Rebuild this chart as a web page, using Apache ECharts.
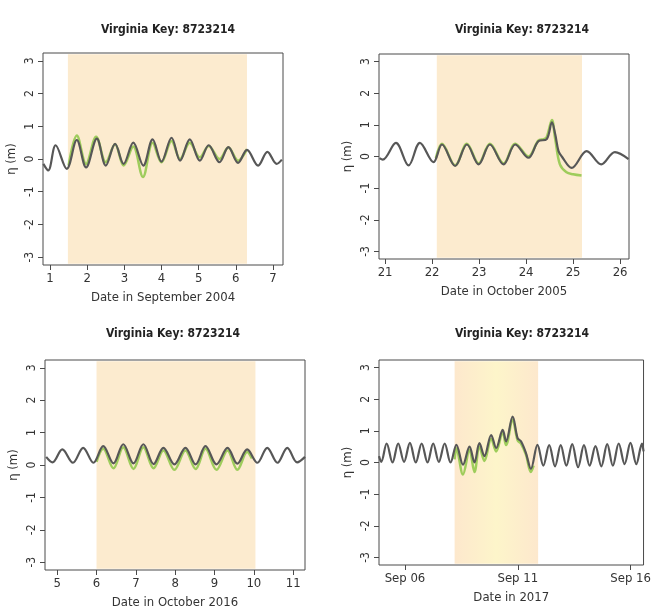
<!DOCTYPE html>
<html>
<head>
<meta charset="utf-8">
<script src="https://cdn.jsdelivr.net/npm/echarts@6/dist/echarts.min.js"></script>
<style>
  html, body { margin: 0; padding: 0; background: #fff; }
  #chart { width: 654px; height: 614px; }
</style>
</head>
<body>
<div id="chart"></div>
<script>
// Panel 1: September 2004
const p1Days = [0.82, 0.95, 1.15, 1.45, 1.72, 1.97, 2.26, 2.5, 2.75, 2.98, 3.24, 3.51, 3.76, 4.0, 4.27, 4.5, 4.76, 5.03, 5.27, 5.56, 5.8, 6.06, 6.3, 6.6, 6.85, 7.1, 7.24]
const p1Pred = [-0.15, -0.35, 0.42, -0.3, 0.58, -0.26, 0.62, -0.2, 0.46, -0.15, 0.5, -0.2, 0.6, -0.08, 0.65, -0.05, 0.6, -0.05, 0.42, -0.1, 0.36, -0.12, 0.28, -0.2, 0.22, -0.15, -0.02]
const p1ObsDays = [1.5, 1.72, 1.97, 2.24, 2.5, 2.75, 2.98, 3.24, 3.5, 3.76, 4.0, 4.27, 4.5, 4.76, 5.03, 5.27, 5.56, 5.8, 6.06, 6.3]
const p1Obs = [-0.2, 0.72, -0.15, 0.68, -0.1, 0.45, -0.2, 0.38, -0.55, 0.5, -0.1, 0.55, 0.0, 0.5, 0.05, 0.4, 0.0, 0.35, -0.05, 0.3]
const p1Storm = [1.48, 6.3]
const p1Ticks = [1, 2, 3, 4, 5, 6, 7]

// Panel 2: October 2005
const p2Days = [20.88, 20.95, 21.23, 21.5, 21.74, 22.03, 22.21, 22.49, 22.74, 22.99, 23.23, 23.52, 23.77, 24.05, 24.26, 24.44, 24.55, 24.62, 24.69, 24.76, 24.97, 25.29, 25.6, 25.89, 26.18]
const p2Pred = [-0.05, -0.1, 0.43, -0.28, 0.43, -0.18, 0.38, -0.3, 0.38, -0.25, 0.38, -0.25, 0.38, -0.04, 0.48, 0.55, 1.08, 0.7, 0.17, 0.0, -0.36, 0.17, -0.25, 0.14, -0.08]
const p2ObsDays = [22.08, 22.21, 22.49, 22.74, 22.99, 23.23, 23.52, 23.77, 24.05, 24.26, 24.38, 24.44, 24.55, 24.62, 24.72, 24.86, 25.0, 25.18]
const p2Obs = [-0.05, 0.4, -0.28, 0.4, -0.22, 0.4, -0.22, 0.4, 0.0, 0.5, 0.55, 0.62, 1.15, 0.55, -0.25, -0.5, -0.56, -0.6]
const p2Storm = [22.1, 25.19]
const p2Ticks = [21, 22, 23, 24, 25, 26]

// Panel 3: October 2016
const p3Days = [4.72, 4.88, 5.13, 5.4, 5.66, 5.92, 6.17, 6.43, 6.68, 6.94, 7.19, 7.45, 7.7, 7.98, 8.26, 8.52, 8.77, 9.05, 9.33, 9.58, 9.83, 10.09, 10.34, 10.6, 10.85, 11.1, 11.3]
const p3Pred = [0.25, 0.08, 0.48, 0.07, 0.53, 0.07, 0.58, 0.05, 0.64, 0.05, 0.64, 0.03, 0.53, 0.02, 0.53, 0.02, 0.58, 0.02, 0.53, 0.04, 0.48, 0.07, 0.53, 0.07, 0.53, 0.08, 0.25]
const p3ObsDays = [6.0, 6.17, 6.43, 6.68, 6.94, 7.19, 7.45, 7.7, 7.98, 8.26, 8.52, 8.77, 9.05, 9.33, 9.58, 9.83, 9.95]
const p3Obs = [0.1, 0.5, -0.1, 0.55, -0.12, 0.55, -0.1, 0.45, -0.15, 0.45, -0.12, 0.5, -0.15, 0.45, -0.15, 0.4, 0.2]
const p3Storm = [6.0, 10.04]
const p3Ticks = [5, 6, 7, 8, 9, 10, 11]

// Panel 4: September 2017 (day of month)
const p4Days = [4.85, 4.95, 5.19, 5.45, 5.7, 5.96, 6.22, 6.48, 6.74, 7.0, 7.25, 7.5, 7.76, 8.02, 8.28, 8.57, 8.86, 9.08, 9.3, 9.52, 9.82, 10.04, 10.33, 10.48, 10.77, 10.99, 11.14, 11.36, 11.58, 11.87, 12.13, 12.39, 12.65, 12.9, 13.15, 13.41, 13.67, 13.93, 14.18, 14.44, 14.7, 14.96, 15.21, 15.47, 15.73, 15.99, 16.25, 16.5, 16.57]
const p4Pred = [0.2, 0.02, 0.6, 0.0, 0.6, 0.02, 0.62, 0.0, 0.6, 0.0, 0.6, 0.02, 0.6, 0.0, 0.56, -0.07, 0.5, 0.0, 0.61, 0.2, 0.87, 0.46, 1.03, 0.67, 1.45, 0.77, 0.67, 0.3, -0.2, 0.56, -0.1, 0.55, -0.12, 0.55, -0.1, 0.58, -0.15, 0.55, -0.1, 0.52, -0.12, 0.58, -0.1, 0.6, -0.05, 0.62, -0.05, 0.6, 0.35]
const p4ObsDays = [8.2, 8.28, 8.57, 8.86, 9.08, 9.3, 9.52, 9.82, 10.04, 10.33, 10.48, 10.77, 10.99, 11.14, 11.36, 11.58, 11.7]
const p4Obs = [0.1, 0.45, -0.38, 0.4, -0.3, 0.5, 0.05, 0.75, 0.35, 0.95, 0.55, 1.35, 0.7, 0.6, 0.25, -0.3, -0.1]
const p4Storm = [8.2, 11.9]
const p4Ticks = [6, 11, 16]
const p4TickLabels = ['Sep 06', 'Sep 11', 'Sep 16']

const yTicks = [-3, -2, -1, 0, 1, 2, 3]
const stationTitle = 'Virginia Key: 8723214'

const font = '"Liberation Sans Narrow", "DejaVu Sans Condensed", "Liberation Sans", sans-serif'
const colors = {
  text: '#333',
  box: '#4a4a4a',
  pred: '#575757',
  obs: '#93c94f',
  shade: '#fcebcf',
}

// Sept 2017 window fades from peach at the edges to pale yellow in the middle.
const yellowShade = new echarts.graphic.LinearGradient(0, 0, 1, 0, [
  { offset: 0, color: '#fde8cd' },
  { offset: 0.5, color: '#fdf5ca' },
  { offset: 1, color: '#fde8cd' },
])

const panels = [
  { days: p1Days, pred: p1Pred, obsDays: p1ObsDays, obs: p1Obs, storm: p1Storm, ticks: p1Ticks,
    xMin: 0.81, xMax: 7.27, xName: 'Date in September 2004', shade: colors.shade,
    grid: { left: 43, top: 53, width: 240, height: 212 }, titleX: 163, titleY: 19 },
  { days: p2Days, pred: p2Pred, obsDays: p2ObsDays, obs: p2Obs, storm: p2Storm, ticks: p2Ticks,
    xMin: 20.87, xMax: 26.19, xName: 'Date in October 2005', shade: colors.shade,
    grid: { left: 379, top: 54, width: 250, height: 205 }, titleX: 517, titleY: 19 },
  { days: p3Days, pred: p3Pred, obsDays: p3ObsDays, obs: p3Obs, storm: p3Storm, ticks: p3Ticks,
    xMin: 4.69, xMax: 11.3, xName: 'Date in October 2016', shade: colors.shade,
    grid: { left: 45, top: 360, width: 260, height: 210 }, titleX: 168, titleY: 323 },
  { days: p4Days, pred: p4Pred, obsDays: p4ObsDays, obs: p4Obs, storm: p4Storm, ticks: p4Ticks,
    tickLabels: p4TickLabels, xMin: 4.85, xMax: 16.57, xName: 'Date in 2017', shade: yellowShade,
    grid: { left: 379, top: 360, width: 266, height: 205 }, titleX: 517, titleY: 323 },
]

const zip = (xs, ys) => xs.map((x, i) => [x, ys[i]])

const option = {
  animation: false,
  backgroundColor: '#fff',
  textStyle: { fontFamily: font, color: colors.text },
  title: panels.map((p) => ({
    text: stationTitle,
    left: p.titleX,
    top: p.titleY,
    textAlign: 'center',
    textStyle: { fontFamily: font, fontSize: 12, fontWeight: 'bold', color: '#222' },
  })),
  grid: panels.map((p) => ({
    ...p.grid,
    show: true,
    borderColor: colors.box,
    borderWidth: 1,
    backgroundColor: 'transparent',
  })),
  xAxis: panels.map((p, i) => ({
    type: 'value',
    gridIndex: i,
    min: p.xMin,
    max: p.xMax,
    name: p.xName,
    nameLocation: 'middle',
    nameGap: 26,
    nameTextStyle: { fontFamily: font, fontSize: 13, color: colors.text },
    splitLine: { show: false },
    axisLine: { show: false, onZero: false },
    axisTick: { show: true, length: 5, customValues: p.ticks, lineStyle: { color: colors.box } },
    axisLabel: {
      customValues: p.ticks,
      margin: 7,
      fontFamily: font,
      fontSize: 13,
      color: colors.text,
      formatter: (v) => {
        if (p.tickLabels) {
          const k = p.ticks.indexOf(v)
          return k >= 0 ? p.tickLabels[k] : ''
        }
        return String(v)
      },
    },
  })),
  yAxis: panels.map((p, i) => ({
    type: 'value',
    gridIndex: i,
    min: -3.24,
    max: 3.24,
    name: 'η (m)',
    nameLocation: 'middle',
    nameGap: 25,
    nameTextStyle: { fontFamily: font, fontSize: 13, color: colors.text },
    splitLine: { show: false },
    axisLine: { show: false, onZero: false },
    axisTick: { show: true, length: 5, customValues: yTicks, lineStyle: { color: colors.box } },
    axisLabel: {
      customValues: yTicks,
      rotate: 90,
      margin: 7,
      fontFamily: font,
      fontSize: 12,
      color: colors.text,
    },
  })),
  series: panels.flatMap((p, i) => [
    {
      name: 'observed',
      type: 'line',
      xAxisIndex: i,
      yAxisIndex: i,
      smooth: 0.35,
      symbol: 'none',
      z: 3,
      lineStyle: { color: colors.obs, width: 2.5, opacity: 0.9 },
      data: zip(p.obsDays, p.obs),
      markArea: {
        silent: true,
        itemStyle: { color: p.shade },
        data: [[{ xAxis: p.storm[0], yAxis: -3.2 }, { xAxis: p.storm[1], yAxis: 3.2 }]],
      },
    },
    {
      name: 'predicted',
      type: 'line',
      xAxisIndex: i,
      yAxisIndex: i,
      smooth: 0.35,
      symbol: 'none',
      z: 4,
      lineStyle: { color: colors.pred, width: 2.2 },
      data: zip(p.days, p.pred),
    },
  ]),
}

const chart = echarts.init(document.getElementById('chart'))
chart.setOption(option)
</script>
</body>
</html>
